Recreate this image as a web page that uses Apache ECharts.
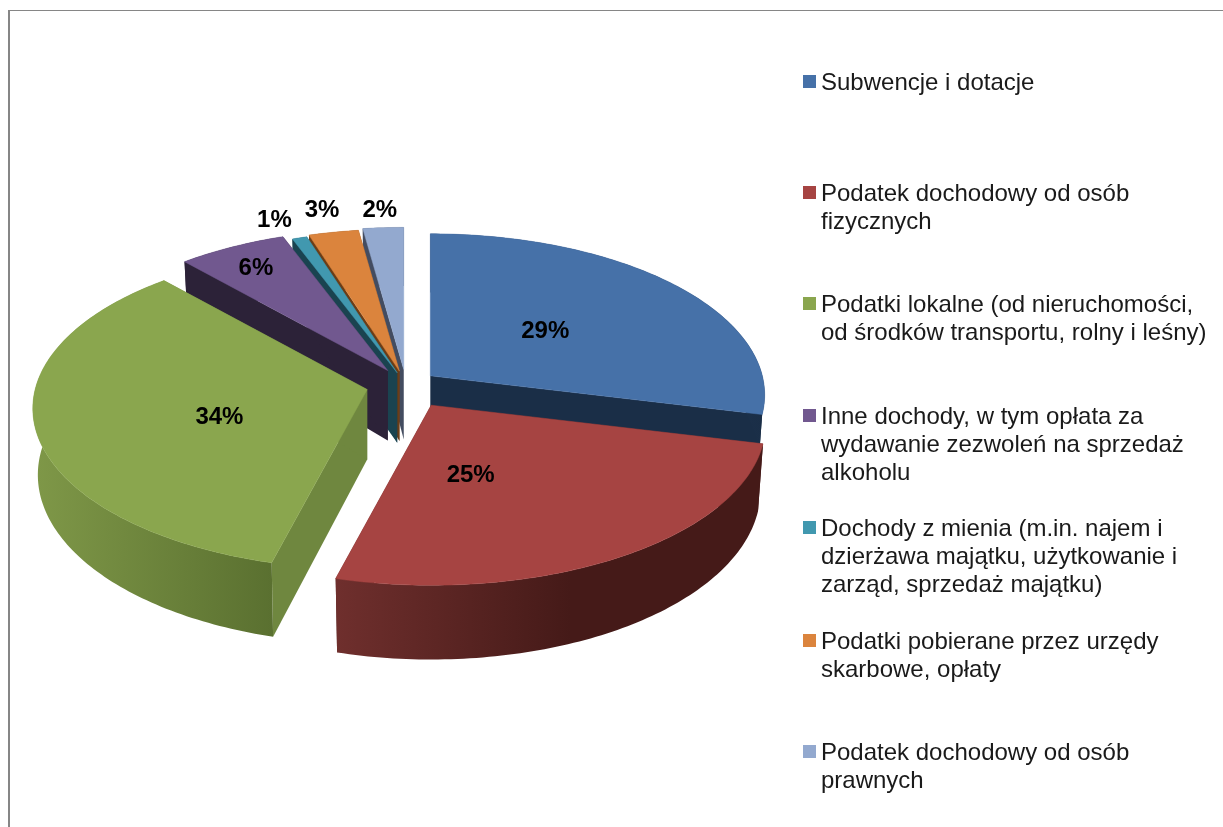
<!DOCTYPE html>
<html>
<head>
<meta charset="utf-8">
<style>html,body{margin:0;padding:0;background:#fff}#c{width:1223px;height:827px}</style>
<script src="https://cdn.jsdelivr.net/npm/echarts@6/dist/echarts.min.js"></script>
</head>
<body>
<div id="c"></div>
<script>
// ---- data ----
const categories = [
  'Subwencje i dotacje',
  'Podatek dochodowy od osób\nfizycznych',
  'Podatki lokalne (od nieruchomości,\nod środków transportu, rolny i leśny)',
  'Inne dochody, w tym opłata za\nwydawanie zezwoleń na sprzedaż\nalkoholu',
  'Dochody z mienia (m.in. najem i\ndzierżawa majątku, użytkowanie i\nzarząd, sprzedaż majątku)',
  'Podatki pobierane przez urzędy\nskarbowe, opłaty',
  'Podatek dochodowy od osób\nprawnych'
];
const values = [28.8, 25.3, 34.3, 5.9, 0.8, 2.7, 2.2];

// ---- styling ----
const topColors  = ['#4671a8', '#a64442', '#8aa64e', '#71588f', '#4198af', '#db843d', '#93a9cf'];
const cutColors  = ['#1a2e47', '#4a1c1a', '#6f873f', '#2c2238', '#1a4350', '#6b3d17', '#434c60'];
const wallStops  = [['#2a4468', '#1a2e47'], ['#6f2f2d', '#451a18'], ['#7f9848', '#5a7030'], ['#2c2238', '#2c2238'], ['#1a4350', '#1a4350'], ['#6b3d17', '#6b3d17'], ['#434c60', '#434c60']];
const wallDarkAt = [1, 0.55, 1, 1, 1, 1, 1];
const explode    = [0.10, 0.133, 0.117, 0.117, 0.09, 0.10, 0.11];
const paintOrder = [6, 5, 4, 3, 0, 2, 1];
const labelPlace = [[0.346, -0.294], [0.119, 0.431], [-0.445, 0.163], [-0.397, -0.657], [-0.370, -0.975], [-0.233, -1.025], [-0.072, -1.013]];
const legendRowCentre = [83, 194, 305, 417, 529, 642, 753];

const CX = 406, CY = 385, RX = 332, RY = 158.8, PERSP = 0.118, APEX_DEPTH = 70, RIM_DEPTH = 65.5, BOTTOM_X = 0.985, LABEL_DY = 2;
const FONT = '"Liberation Sans", Arial, sans-serif';
const total = values.reduce((a, b) => a + b, 0);

function unit(deg) { const a = deg * Math.PI / 180; return [Math.sin(a), Math.cos(a)]; }
function flat(deg) {
  const [X, Z] = unit(deg), s = 1 / (1 + PERSP * Z);
  return [RX * X * s, -RY * Z * s, s];
}
function renderSlice(index) {
  return function (params, api) {
    const v = api.value(0);
    let before = 0;
    for (let i = 0; i < index; i++) before += values[i];
    const a0 = before / total * 360, a1 = (before + v) / total * 360, mid = (a0 + a1) / 2;
    const m = flat(mid), e = explode[index];
    const ax = CX + e * m[0], ay = CY + e * m[1];
    const top = [], bottom = [];
    const steps = Math.max(2, Math.ceil(a1 - a0));
    for (let i = 0; i <= steps; i++) {
      const p = flat(a0 + (a1 - a0) * i / steps);
      top.push([ax + p[0], ay + p[1]]);
      bottom.push([ax + p[0] * BOTTOM_X, ay + p[1] + RIM_DEPTH * p[2]]);
    }
    const apexT = [ax, ay], apexB = [ax, ay + APEX_DEPTH];
    const children = [
      { type: 'polygon', shape: { points: [apexT, top[0], bottom[0], apexB] }, style: { fill: cutColors[index] } },
      { type: 'polygon', shape: { points: [apexT, top[steps], bottom[steps], apexB] }, style: { fill: cutColors[index] } },
      { type: 'polygon', shape: { points: top.concat(bottom.slice().reverse()) },
        style: { fill: { type: 'linear', x: 0, y: 0, x2: 1, y2: 0, colorStops: [
          { offset: 0, color: wallStops[index][0] },
          { offset: wallDarkAt[index], color: wallStops[index][1] },
          { offset: 1, color: wallStops[index][1] }] } } },
      { type: 'polygon', shape: { points: [apexT].concat(top) }, style: { fill: topColors[index], stroke: topColors[index], lineWidth: 0.5 } }
    ];
    return { type: 'group', children };
  };
}
function renderLabel(index) {
  return function (params, api) {
    const v = api.value(0);
    let before = 0;
    for (let i = 0; i < index; i++) before += values[i];
    const mid = (before + v / 2) / total * 360, m = flat(mid), e = explode[index];
    return { type: 'text', z2: 100, style: {
      x: CX + e * m[0] + labelPlace[index][0] * RX,
      y: CY + e * m[1] + labelPlace[index][1] * RY + LABEL_DY,
      text: Math.round(v) + '%', fill: '#000', align: 'center', verticalAlign: 'middle',
      font: 'bold 24px ' + FONT } };
  };
}

const series = [];
paintOrder.forEach((i, order) => {
  series.push({
    type: 'custom', name: categories[i], coordinateSystem: 'none', silent: true, animation: false,
    z: 2 + order, data: [[values[i]]], itemStyle: { color: topColors[i] }, renderItem: renderSlice(i)
  });
});
values.forEach((v, i) => {
  series.push({
    type: 'custom', name: 'label-' + i, coordinateSystem: 'none', silent: true, animation: false,
    z: 20, data: [[v]], renderItem: renderLabel(i)
  });
});

const legend = categories.map((name, i) => {
  const lines = name.split('\n').length, h = lines * 28;
  return {
    data: [name], left: 803, top: legendRowCentre[i] - 14, padding: 0, orient: 'vertical',
    selectedMode: false, itemWidth: 13, itemHeight: h, itemGap: 0,
    icon: 'path://M0 0L0.01 0ZM0 6H13V19H0ZM0 ' + h + 'L0.01 ' + h + 'Z', symbolKeepAspect: false,
    textStyle: { fontFamily: FONT, fontSize: 24, color: '#1a1a1a', lineHeight: 28 },
    align: 'left'
  };
});

const chart = echarts.init(document.getElementById('c'), null, { renderer: 'canvas' });
chart.setOption({
  animation: false,
  backgroundColor: '#fff',
  legend,
  series,
  graphic: [
    { type: 'rect', silent: true, shape: { x: 8, y: 10, width: 1215, height: 1 }, style: { fill: '#868686' } },
    { type: 'rect', silent: true, shape: { x: 8, y: 10, width: 2, height: 817 }, style: { fill: '#868686' } }
  ]
});
</script>
</body>
</html>
